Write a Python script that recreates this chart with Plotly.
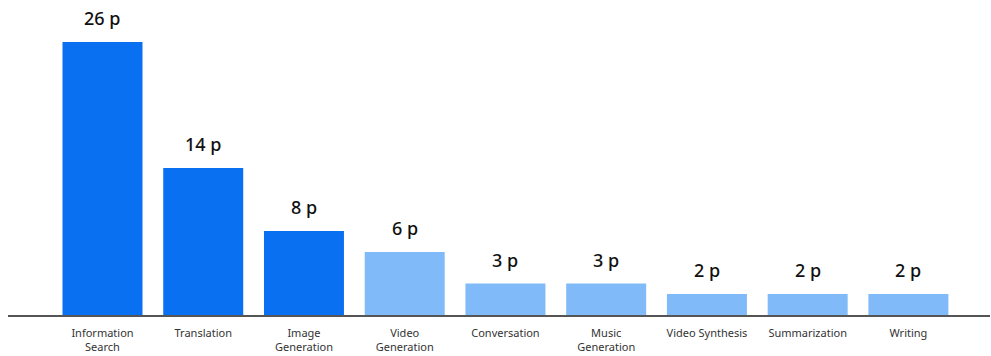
import plotly.graph_objects as go

categories = ["Information<br>Search", "Translation", "Image<br>Generation", "Video<br>Generation",
              "Conversation", "Music<br>Generation", "Video Synthesis", "Summarization", "Writing"]
values = [26, 14, 8, 6, 3, 3, 2, 2, 2]
labels = [f"{v} p" for v in values]
highlight = [True, True, True, False, False, False, False, False, False]

DARK = "#0a70f2"
LIGHT = "#80baf8"
colors = [DARK if h else LIGHT for h in highlight]
xs = list(range(len(categories)))

fig = go.Figure(go.Bar(
    x=xs,
    y=values,
    marker=dict(color=colors, line=dict(width=0)),
    hoverinfo="skip",
))

for x, v, t in zip(xs, values, labels):
    fig.add_annotation(
        x=x, y=v, text=t, showarrow=False, yanchor="bottom", yshift=10,
        font=dict(size=18, color="#111111", family="Noto Sans", weight=500),
    )

fig.update_layout(
    width=991, height=356,
    margin=dict(l=8, r=1, t=0, b=41),
    plot_bgcolor="white", paper_bgcolor="white",
    bargap=0.206,
    showlegend=False,
    font=dict(family="Noto Sans", color="#333333"),
)
fig.update_xaxes(
    range=[-0.938, 8.81],
    tickmode="array",
    tickvals=xs,
    ticktext=categories,
    tickfont=dict(size=11, color="#333333"),
    ticklabelstandoff=7,
    showline=True, linecolor="#555555", linewidth=1.5,
    showgrid=False, zeroline=False, ticks="", ticklen=0,
)
fig.update_yaxes(range=[0, 30], visible=False, showgrid=False, zeroline=False)

fig.write_html("out.html")
